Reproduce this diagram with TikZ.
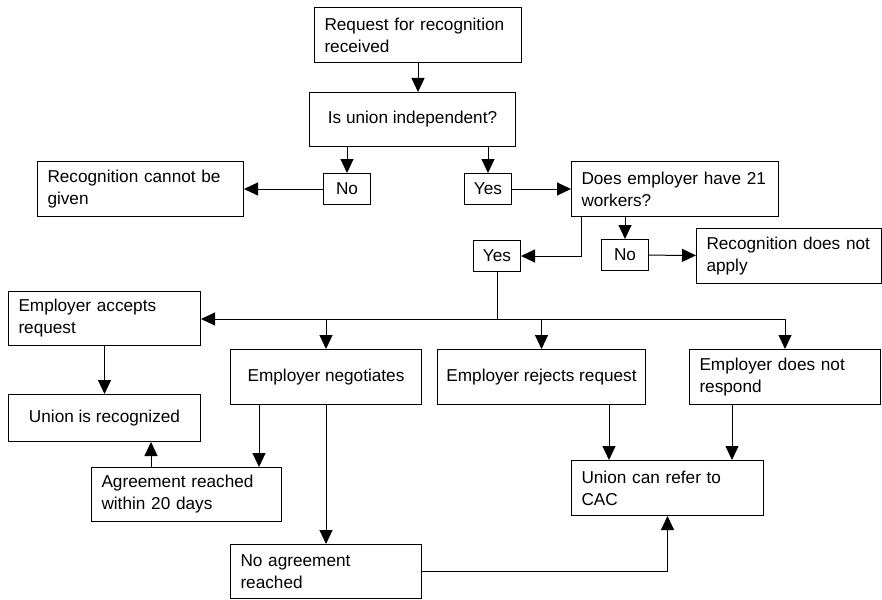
\documentclass[tikz,border=0pt]{standalone}
\usepackage{fontspec}
\setmainfont{Liberation Sans}
\usetikzlibrary{arrows.meta, positioning}

\begin{document}
\begin{tikzpicture}[x=1pt, y=-1pt, line width=1pt, >={Triangle[length=14pt, width=13pt]},
  every node/.style={font=\fontsize{17.2}{22}\selectfont},
  box/.style={draw, anchor=north west, inner xsep=10pt, inner ysep=0pt, align=left},
  tag/.style={draw, anchor=north west, inner sep=0pt, minimum width=47pt, minimum height=31pt}]
\useasboundingbox (0,0) rectangle (882,599);
\node (request)  [box, text width=187pt, minimum height=55pt] at (314,7)   {Request for recognition\\received};
\node (indep)    [box, minimum width=206pt, minimum height=54pt] at (309,92) {Is union independent?};
\node (no1)      [tag] at (323,173) {No};
\node (yes1)     [tag] at (464,173) {Yes};
\node (cannot)   [box, text width=186pt, minimum height=55pt] at (37,161)  {Recognition cannot be\\given};
\node (workers)  [box, text width=187pt, minimum height=55pt] at (571,161) {Does employer have 21\\workers?};
\node (yes2)     [tag] at (473,240) {Yes};
\node (no2)      [tag] at (601,239) {No};
\node (notapply) [box, text width=165pt, minimum height=55pt] at (696,228) {Recognition does not\\apply};
\node (accepts)  [box, text width=172pt, minimum height=54pt] at (8,291)   {Employer accepts\\request};
\node (negot)    [box, minimum width=191pt, minimum height=55pt] at (230,349) {Employer negotiates};
\node (rejects)  [box, minimum width=208pt, minimum height=55pt, inner xsep=4pt] at (437,349) {Employer rejects request};
\node (noresp)   [box, text width=171pt, minimum height=55pt] at (689,349) {Employer does not\\respond};
\node (recog)    [box, minimum width=192pt, minimum height=47pt] at (8,394) {Union is recognized};
\node (agree)    [box, text width=170pt, minimum height=54pt] at (91,467)  {Agreement reached\\within 20 days};
\node (cac)      [box, text width=172pt, minimum height=55pt] at (571,460) {Union can refer to\\CAC};
\node (noagree)  [box, text width=171pt, minimum height=54pt] at (230,544) {No agreement\\reached};

% top part
\draw[->] (request) -- (request |- indep.north);
\draw[->] (no1 |- indep.south) -- (no1);
\draw[->] (yes1 |- indep.south) -- (yes1);
\draw[->] (no1) -- (cannot);
\draw[->] (yes1) -- (workers);
\draw[->] ([xshift=10pt]workers.south west) |- (yes2);
\draw[->] (no2 |- workers.south) -- (no2);
\draw[->] (no2) -- (notapply);

% the four answers
\coordinate (bus) at (497,319);
\draw (yes2) -- (bus);
\draw[->] (bus) -- (bus -| accepts.east);
\draw[->] (bus -| negot) -- (negot);
\draw[->] (bus -| rejects) -- (rejects);
\draw[->] (bus) -| (noresp);

% outcomes
\coordinate (agreeup) at ([xshift=60pt]agree.north west);
\coordinate (negdown) at ([xshift=29pt]negot.south west);
\coordinate (rejdown) at ([xshift=38pt]cac.north west);
\coordinate (resdown) at ([xshift=43pt]noresp.south west);
\draw[->] (accepts) -- (recog);
\draw[->] (agreeup) -- (agreeup |- recog.south);
\draw[->] (negdown) -- (negdown |- agree.north);
\draw[->] (negot) -- (noagree);
\draw[->] (noagree) -| (cac);
\draw[->] (rejdown |- rejects.south) -- (rejdown);
\draw[->] (resdown) -- (resdown |- cac.north);
\end{tikzpicture}
\end{document}
